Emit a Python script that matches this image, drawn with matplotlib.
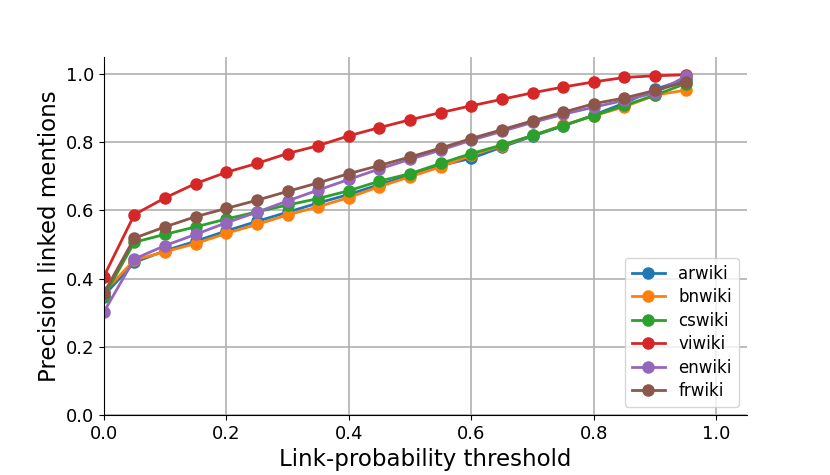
import numpy as np
import matplotlib
matplotlib.use("Agg")
import matplotlib.pyplot as plt

thresholds = np.round(np.arange(0, 1.0, 0.05), 2)

arwiki = [0.350, 0.448, 0.482, 0.510, 0.540, 0.568, 0.595, 0.622, 0.647, 0.676,
          0.703, 0.732, 0.753, 0.786, 0.818, 0.848, 0.880, 0.915, 0.955, 0.985]
bnwiki = [0.360, 0.455, 0.479, 0.503, 0.533, 0.559, 0.587, 0.611, 0.638, 0.670,
          0.699, 0.728, 0.762, 0.790, 0.820, 0.850, 0.878, 0.904, 0.938, 0.953]
cswiki = [0.347, 0.507, 0.530, 0.552, 0.575, 0.596, 0.616, 0.635, 0.658, 0.686,
          0.708, 0.738, 0.767, 0.792, 0.820, 0.849, 0.878, 0.908, 0.938, 0.972]
viwiki = [0.406, 0.588, 0.637, 0.679, 0.712, 0.738, 0.767, 0.790, 0.819, 0.843,
          0.866, 0.887, 0.907, 0.926, 0.945, 0.962, 0.977, 0.990, 0.995, 0.998]
enwiki = [0.302, 0.458, 0.497, 0.530, 0.564, 0.595, 0.628, 0.660, 0.691, 0.722,
          0.750, 0.777, 0.806, 0.832, 0.858, 0.882, 0.903, 0.923, 0.945, 0.993]
frwiki = [0.357, 0.519, 0.552, 0.582, 0.606, 0.630, 0.656, 0.681, 0.708, 0.732,
          0.757, 0.783, 0.811, 0.837, 0.863, 0.888, 0.913, 0.930, 0.952, 0.977]

series = [("arwiki", arwiki), ("bnwiki", bnwiki), ("cswiki", cswiki),
          ("viwiki", viwiki), ("enwiki", enwiki), ("frwiki", frwiki)]

fig, ax = plt.subplots(figsize=(8.3, 4.75), dpi=100)
fig.subplots_adjust(left=0.125, right=0.9, top=0.88, bottom=0.126)

for name, vals in series:
    ax.plot(thresholds, vals, marker="o", markersize=8, linewidth=2, label=name)

ax.set_xlim(0, 1.05)
ax.set_ylim(0, 1.05)
ax.set_xticks([0.0, 0.2, 0.4, 0.6, 0.8, 1.0])
ax.set_yticks([0.0, 0.2, 0.4, 0.6, 0.8, 1.0])
ax.tick_params(labelsize=13)
ax.grid(True, linewidth=1.2)
ax.set_axisbelow(True)
ax.spines['right'].set_visible(False)
ax.spines['top'].set_visible(False)

ax.set_xlabel("Link-probability threshold", fontsize=16.5, labelpad=4)
ax.set_ylabel("Precision linked mentions", fontsize=16.5, labelpad=3)
ax.legend(loc="lower right", fontsize=12, labelspacing=0.33)

fig.savefig("out.png", dpi=100)
